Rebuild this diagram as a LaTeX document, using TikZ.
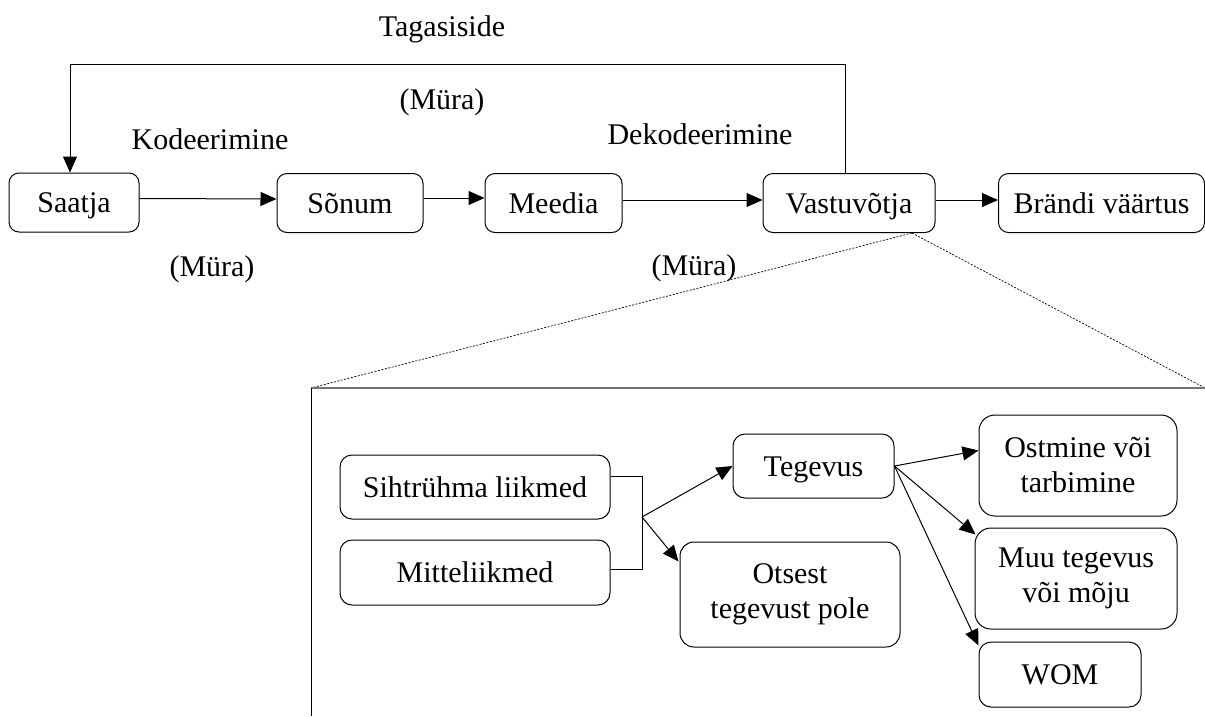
\documentclass[tikz,border=0pt]{standalone}
\usepackage{fontspec}
\setmainfont{Liberation Serif}
\usetikzlibrary{arrows.meta,calc}
\begin{document}
\begin{tikzpicture}[x=1pt,y=-1pt,
  every node/.style={font=\fontsize{30}{35}\selectfont, inner sep=0pt},
  box/.style={draw, line width=1pt, rounded corners=10pt, align=center},
  oneline/.style={text height=20pt, text depth=0pt},
  lbl/.style={text height=20pt, text depth=0pt},
  conn/.style={line width=1pt},
  arr/.style={line width=1pt, -{Triangle[length=16pt,width=14pt]}},
  zoomline/.style={line width=0.7pt, dash pattern=on 2pt off 1.5pt},
]
\useasboundingbox (0,0) rectangle (1205,716);

% main communication chain
\node[box, oneline, minimum width=130pt, minimum height=59pt] (saatja) at (74,202.5) {Saatja};
\node[box, oneline, minimum width=146pt, minimum height=59pt] (sonum) at (350,203) {Sõnum};
\node[box, oneline, minimum width=137pt, minimum height=59pt] (meedia) at (553.5,203) {Meedia};
\node[box, oneline, minimum width=172pt, minimum height=59pt] (vast) at (849,203) {Vastuvõtja};
\node[box, oneline, minimum width=206pt, minimum height=59pt] (brand) at (1101.5,203) {Brändi väärtus};

\draw[arr] ($(saatja.east)+(0,-4)$) -- ($(sonum.west)+(0,-4)$);
\draw[arr] ($(sonum.east)+(0,-5)$) -- ($(meedia.west)+(0,-5)$);
\draw[arr] ($(meedia.east)+(0,-3)$) -- ($(vast.west)+(0,-3)$);
\draw[arr] ($(vast.east)+(0,-3)$) -- ($(brand.west)+(0,-3)$);

% feedback loop
\coordinate (fbR) at (845,64);
\coordinate (fbL) at (70,64);
\draw[conn] (vast.north -| fbR) -- (fbR) -- (fbL);
\draw[arr] (fbL) -- (saatja.north -| fbL);

% labels
\node[lbl] (tag) at (442,26) {Tagasiside};
\node[lbl] (mura1) at (442,99) {(Müra)};
\node[lbl] (kod) at (210,139) {Kodeerimine};
\node[lbl] (dek) at (700,134) {Dekodeerimine};
\node[lbl] (mura2) at (212,266) {(Müra)};
\node[lbl] (mura3) at (694,265) {(Müra)};

% detail frame
\coordinate (zs) at ($(vast.south)+(63,0)$);
\coordinate (fTL) at (311,388);
\coordinate (fTR) at (1205,388);
\coordinate (fBL) at (311,716);
\draw[zoomline] (zs) -- (fTL);
\draw[zoomline] (zs) -- (fTR);
\draw[line width=1.2pt, black!55] (fTL) -- (fTR);
\draw[line width=0.9pt] (fTL) -- (fBL);

% detail: audience and response
\node[box, oneline, rounded corners=12pt, minimum width=270pt, minimum height=64pt] (siht) at (475,487) {Sihtrühma liikmed};
\node[box, oneline, rounded corners=12pt, minimum width=270pt, minimum height=65pt] (mitte) at (475,572.5) {Mitteliikmed};
\node[box, oneline, rounded corners=12pt, minimum width=161pt, minimum height=64pt] (teg) at (813.5,466) {Tegevus};
\node[box, rounded corners=14pt, minimum width=220pt, minimum height=105pt] (otsest) at (790,594.5) {Otsest\\tegevust pole};
\node[box, rounded corners=16pt, minimum width=198pt, minimum height=101pt] (ost) at (1078,465.5) {Ostmine või\\tarbimine};
\node[box, rounded corners=16pt, minimum width=202pt, minimum height=101pt] (muu) at (1076,578.5) {Muu tegevus\\või mõju};
\node[box, oneline, rounded corners=12pt, minimum width=162pt, minimum height=65pt] (wom) at (1060,674.5) {WOM};

\coordinate (brk) at (642,517);
\draw[conn] ($(siht.east)+(0,-11)$) -| (brk);
\draw[conn] ($(mitte.east)+(0,-3)$) -| (brk);
\draw[arr] (brk) -- (teg.west);
\draw[arr] (brk) -- ($(otsest.north west)+(-1,20)$);

\coordinate (tegR) at (teg.east);
\draw[arr] (tegR) -- ($(ost.west)+(0,-15)$);
\draw[arr] (tegR) -- ($(muu.north west)+(1,7)$);
\draw[arr] (tegR) -- ($(wom.north west)+(0,4)$);
\end{tikzpicture}
\end{document}
